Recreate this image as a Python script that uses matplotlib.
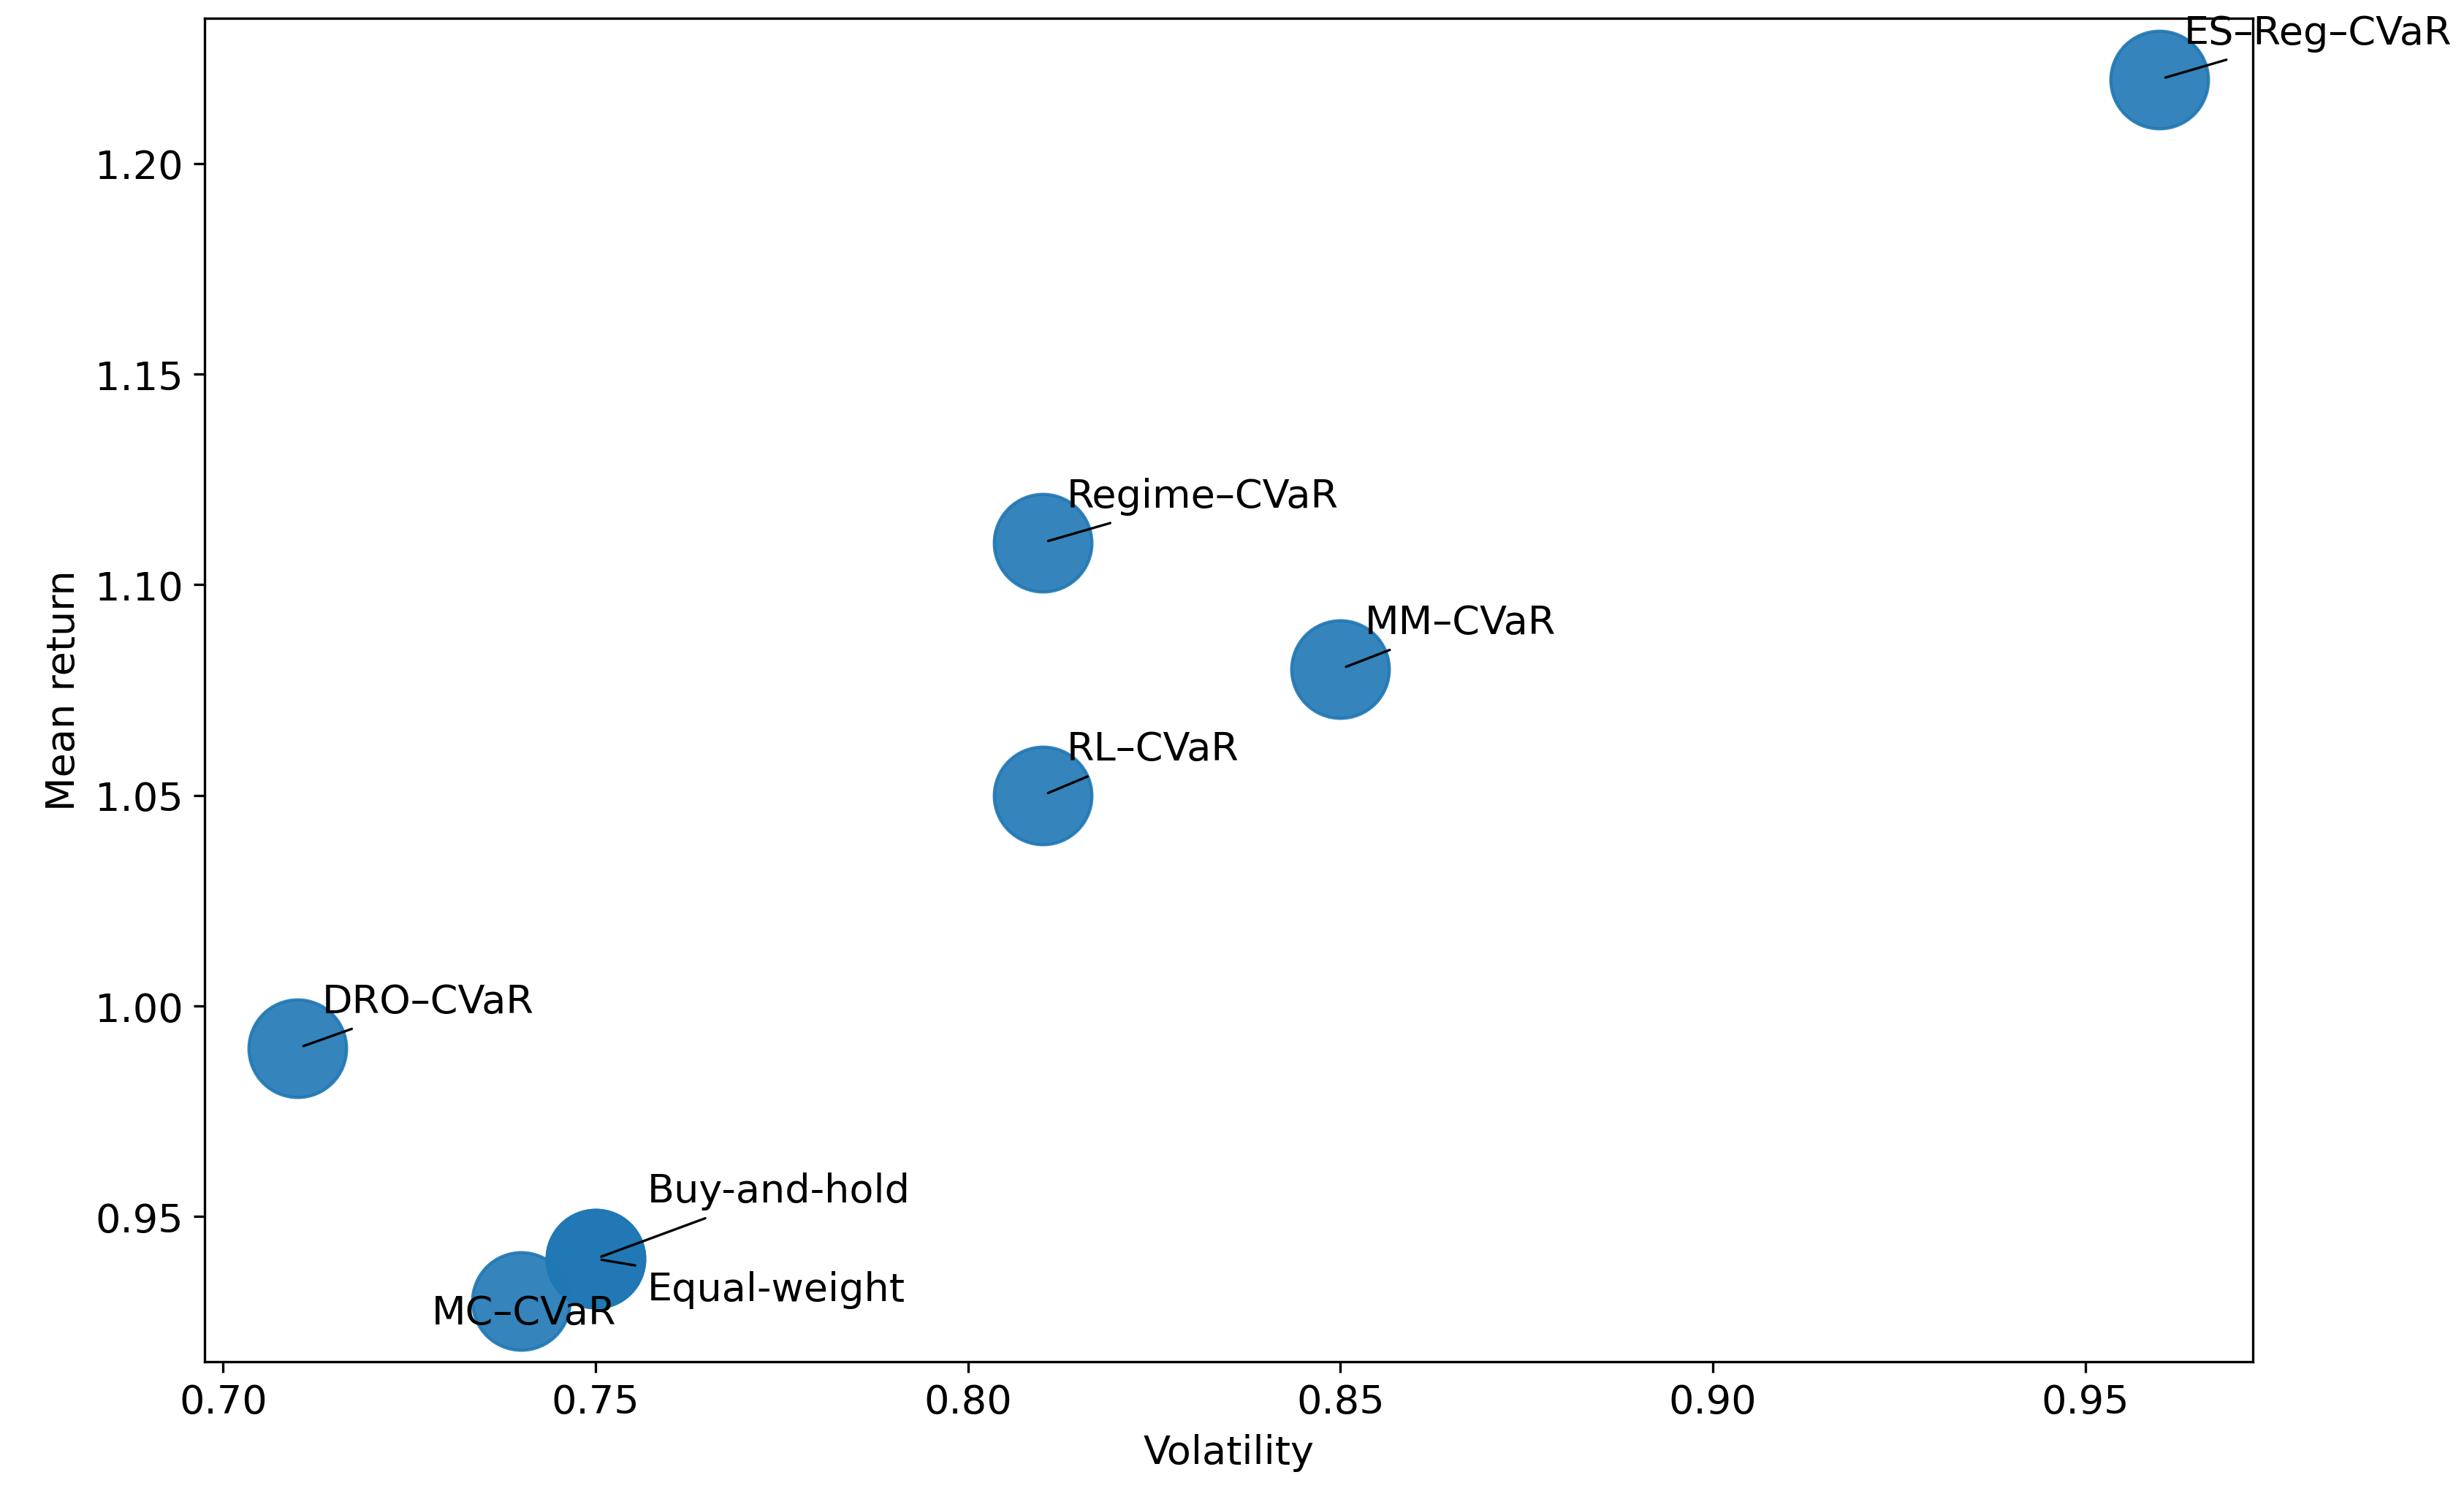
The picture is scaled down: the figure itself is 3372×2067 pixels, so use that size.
import matplotlib
matplotlib.use("Agg")
import matplotlib.pyplot as plt

plt.rcParams["font.size"] = 13

methods = ["ES–Reg–CVaR", "Regime–CVaR", "MM–CVaR", "RL–CVaR", "DRO–CVaR",
           "Buy-and-hold", "Equal-weight", "MC–CVaR"]
volatility = [0.96, 0.81, 0.85, 0.81, 0.71, 0.75, 0.75, 0.74]
mean_return = [1.22, 1.11, 1.08, 1.05, 0.99, 0.94, 0.94, 0.93]

# label offsets in points
offsets = {"Buy-and-hold": (17, 16), "Equal-weight": (17, -10), "MC–CVaR": (1, -4)}

fig = plt.figure(figsize=(11.243, 6.893), dpi=300)
ax = fig.add_axes([0.083, 0.098, 0.831, 0.8895])
ax.scatter(volatility, mean_return, s=1030, color="#1f77b4", alpha=0.9)

for name, x, y in zip(methods, volatility, mean_return):
    dx, dy = offsets.get(name, (8, 9))
    if name == "MC–CVaR":
        ax.annotate(name, (x, y), xytext=(dx, dy), textcoords="offset points",
                    ha="center", va="center")
    else:
        ax.annotate(name, (x, y), xytext=(dx, dy), textcoords="offset points",
                    ha="left", va="bottom" if dy > 0 else "center",
                    arrowprops=dict(arrowstyle="-", lw=0.8, color="black"))

ax.set_xlabel("Volatility")
ax.set_ylabel("Mean return")
fig.savefig("out.png", dpi=300)
